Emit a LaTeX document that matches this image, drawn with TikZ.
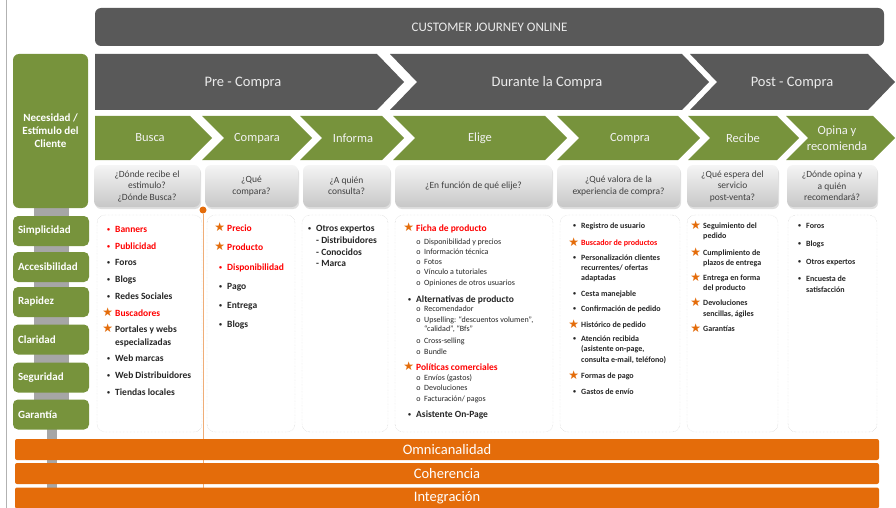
\documentclass[tikz,border=0pt]{standalone}
\usepackage{fontspec}
\setmainfont{Carlito}
\newfontfamily\simbolos{DejaVu Sans}
\usetikzlibrary{shadows}

\definecolor{grisosc}{HTML}{595959}
\definecolor{verde}{HTML}{77933C}
\definecolor{naranja}{HTML}{E46C0A}
\definecolor{rojo}{HTML}{FF0000}
\definecolor{texto}{HTML}{262626}
\definecolor{gristxt}{HTML}{404040}

% marcas de las listas
\newcommand{\rojo}[1]{{\color{rojo}#1}}
\newcommand{\punto}{\makebox[0pt][r]{\raisebox{0.9pt}{\fontsize{6}{6}\selectfont\textbullet}\hspace{5pt}}}
\newcommand{\estrella}{\makebox[0pt][r]{\raisebox{-0.5pt}{\simbolos\fontsize{12}{12}\selectfont\color{naranja}★}\hspace{2pt}}}
\newcommand{\subp}{\makebox[0pt][r]{o\hspace{3.5pt}}}

\tikzset{
  pregunta/.style={rounded corners=6pt, top color=black!4, bottom color=black!22, draw=none,
    drop shadow={shadow xshift=1pt, shadow yshift=-2pt, opacity=.25},
    minimum height=42pt, align=center, text=gristxt, font=\fontsize{9.5}{11.5}\selectfont},
  lista/.style={draw=black!22, densely dotted, fill=white, rounded corners=8pt, minimum height=217pt},
  atributo/.style={fill=verde, rounded corners=5pt, minimum height=30pt, text width=66pt,
    inner xsep=5pt, align=left, text=white, font=\fontsize{11}{13}\bfseries},
  barra/.style={fill=naranja, rounded corners=2pt, minimum width=864pt, minimum height=21pt,
    text=white, font=\fontsize{14.5}{15}\selectfont},
  fasetxt/.style={text=white!92!black, font=\fontsize{14.5}{16}\selectfont},
  pasotxt/.style={text=white!95!black, align=center, font=\fontsize{12.5}{16}\selectfont},
  elem/.style={anchor=base west, inner sep=0pt, text=texto, yshift=-3pt},
  hito/.style={circle, fill=naranja, inner sep=0pt, minimum size=7pt}
}

\begin{document}
\begin{tikzpicture}[x=1pt, y=-1pt]
\useasboundingbox (0,0) rectangle (896,508);

% fondo: borde, eje gris y linea naranja
\draw[black!30, line width=1pt] (6,0) -- (6,508);
\fill[black!35] (34,200) rectangle (69,420);
\fill[black!35] (47,420) rectangle (57,508);
\node[hito] (hito) at (203,210) {};
\coordinate (hitofin) at (203,508);
\draw[naranja!55, line width=1pt] (hito) -- (hitofin);

% cabecera
\node[fill=grisosc, rounded corners=6pt, minimum width=789pt, minimum height=38pt,
  text=white!92!black, font=\fontsize{13}{14}\selectfont] (titulo) at (489.5,27) {CUSTOMER JOURNEY ONLINE};

% fases
\fill[grisosc] (95,54) -- (377,54) -- (404,82) -- (377,110) -- (95,110) -- cycle;
\fill[grisosc] (390,54) -- (682,54) -- (709,82) -- (682,110) -- (390,110) -- (417,82) -- cycle;
\fill[grisosc] (690,54) -- (868,54) -- (895,82) -- (868,110) -- (690,110) -- (717,82) -- cycle;
\node[fasetxt] (pre) at (243,83) {Pre - Compra};
\node[fasetxt] (durante) at (547,83) {Durante la Compra};
\node[fasetxt] (post) at (792,83) {Post - Compra};

% pasos
\fill[verde] (95,116) -- (190,116) -- (212,138) -- (190,160) -- (95,160) -- cycle;
\foreach \l/\r in {202/290, 300/382, 393/545, 557/678, 688/777, 786/873}
  \fill[verde] (\l,116) -- (\r,116) -- (\r+22,138) -- (\r,160) -- (\l,160) -- (\l+22,138) -- cycle;
\node[pasotxt] (busca) at (150,138) {Busca};
\node[pasotxt] (compara) at (257,138) {Compara};
\node[pasotxt] (informa) at (353,138) {Informa};
\node[pasotxt] (elige) at (480,138) {Elige};
\node[pasotxt] (compra) at (630,138) {Compra};
\node[pasotxt] (recibe) at (743,138) {Recibe};
\node[pasotxt] (opina) at (837,138) {Opina y\\recomienda};

% preguntas
\node[pregunta, minimum width=106pt] (q1) at (147,186) {¿Dónde recibe el\\estimulo?\\¿Dónde Busca?};
\node[pregunta, minimum width=93pt] (q2) at (251.5,186) {¿Qué\\compara?};
\node[pregunta, minimum width=87pt] (q3) at (346.5,186) {¿A quién\\consulta?};
\node[pregunta, minimum width=157pt] (q4) at (473.5,186) {¿En función de qué elije?};
\node[pregunta, minimum width=123pt] (q5) at (618.5,186) {¿Qué valora de la\\experiencia de compra?};
\node[pregunta, minimum width=91pt] (q6) at (732.5,186) {¿Qué espera del\\servicio\\post-venta?};
\node[pregunta, minimum width=90pt] (q7) at (832,186) {¿Dónde opina y\\a quién\\recomendará?};

% cajas de contenido
\node[lista, minimum width=105pt] (c1) at (149.5,323.5) {};
\node[lista, minimum width=88pt] (c2) at (251,323.5) {};
\node[lista, minimum width=86pt] (c3) at (345,323.5) {};
\node[lista, minimum width=158pt] (c4) at (474,323.5) {};
\node[lista, minimum width=120pt] (c5) at (620,323.5) {};
\node[lista, minimum width=91pt] (c6) at (732.5,323.5) {};
\node[lista, minimum width=89pt] (c7) at (832.5,323.5) {};

% columna izquierda
\node[fill=verde, rounded corners=6pt, minimum width=75pt, minimum height=154pt, align=center,
  text=white, font=\fontsize{11}{13}\bfseries] (necesidad) at (50.5,131) {Necesidad /\\Estímulo del\\Cliente};
\node[atributo] (a1) at (51,231) {Simplicidad};
\node[atributo] (a2) at (51,267) {Accesibilidad};
\node[atributo] (a3) at (51,302) {Rapidez};
\node[atributo] (a4) at (51,339.5) {Claridad};
\node[atributo] (a5) at (51,377.5) {Seguridad};
\node[atributo] (a6) at (51,414.5) {Garantía};

% Busca
\foreach \y/\t [count=\i] in {229/\rojo{\punto Banners}, 246/\rojo{\punto Publicidad}, 262/\punto Foros,
    279/\punto Blogs, 296/\punto Redes Sociales, 313/\estrella\rojo{Buscadores}, 329/\estrella Portales y webs,
    342/especializadas, 358/\punto Web marcas, 375/\punto Web Distribuidores, 392/\punto Tiendas locales}
  \node[elem, font=\fontsize{9.5}{11}\bfseries] (bu\i) at (115,\y) {\t};

% Compara
\foreach \y/\t [count=\i] in {228/\estrella\rojo{Precio}, 247/\estrella\rojo{Producto},
    267/\rojo{\punto Disponibilidad}, 286/\punto Pago, 305/\punto Entrega, 324/\punto Blogs}
  \node[elem, font=\fontsize{9.5}{11}\bfseries] (co\i) at (227,\y) {\t};

% Informa
\foreach \y/\t [count=\i] in {228/\punto Otros expertos, 240/- Distribuidores, 252/- Conocidos, 263/- Marca}
  \node[elem, font=\fontsize{9.5}{11}\bfseries] (in\i) at (316,\y) {\t};

% Elige
\foreach \y/\t [count=\i] in {228/\estrella\rojo{Ficha de producto}, 299/\punto Alternativas de producto,
    367/\estrella\rojo{Políticas comerciales}, 414/\punto Asistente On-Page}
  \node[elem, font=\fontsize{9.5}{11}\bfseries] (el\i) at (416,\y) {\t};
\foreach \y/\t [count=\i] in {242/\subp Disponibilidad y precios, 252/\subp Información técnica, 262/\subp Fotos,
    272/\subp Vínculo a tutoriales, 283/\subp Opiniones de otros usuarios, 309/\subp Recomendador,
    320/{\subp Upselling: “descuentos volumen”,}, 329/{“calidad”, “Bfs”}, 341/\subp Cross-selling,
    352/\subp Bundle, 378/\subp Envíos (gastos), 388/\subp Devoluciones, 399/{\subp Facturación/ pagos}}
  \node[elem, yshift=0.5pt, font=\fontsize{8}{10}\selectfont] (es\i) at (424,\y) {\t};

% Compra
\foreach \y/\t [count=\i] in {226/\punto Registro de usuario, 243/\estrella\rojo{Buscador de productos},
    258/\punto Personalización clientes, 268/{recurrentes/ ofertas}, 278/adaptadas, 294/\punto Cesta manejable,
    309/\punto Confirmación de pedido, 325/\estrella Histórico de pedido, 339/\punto Atención recibida,
    349/{(asistente on-page,}, 360/{consulta e-mail, teléfono)}, 376/\estrella Formas de pago,
    392/\punto Gastos de envío}
  \node[elem, yshift=0.5pt, font=\fontsize{8}{10}\bfseries] (cp\i) at (581,\y) {\t};

% Recibe
\foreach \y/\t [count=\i] in {226/\estrella Seguimiento del, 236/pedido, 253/\estrella Cumplimiento de,
    263/plazos de entrega, 278/\estrella Entrega en forma, 288/del producto, 303/\estrella Devoluciones,
    314/{sencillas, ágiles}, 329/\estrella Garantías}
  \node[elem, yshift=0.5pt, font=\fontsize{8}{10}\bfseries] (re\i) at (703,\y) {\t};

% Opina
\foreach \y/\t [count=\i] in {226/\punto Foros, 244/\punto Blogs, 262/\punto Otros expertos,
    279/\punto Encuesta de, 290/satisfacción}
  \node[elem, yshift=0.5pt, font=\fontsize{8}{10}\bfseries] (op\i) at (806,\y) {\t};

% barras inferiores
\node[barra] (omni) at (447,449.5) {Omnicanalidad};
\node[barra] (coherencia) at (447,473.5) {Coherencia};
\node[barra] (integracion) at (447,498) {Integración};
\end{tikzpicture}
\end{document}
